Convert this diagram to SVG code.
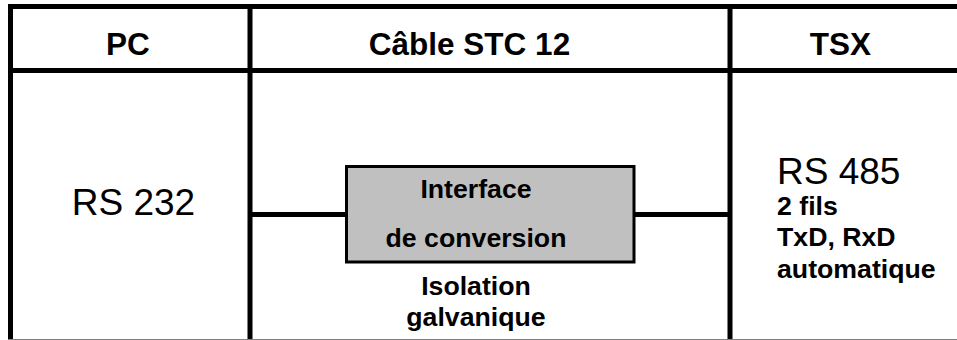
<svg xmlns="http://www.w3.org/2000/svg" width="957" height="340" viewBox="0 0 957 340">
<style>
text{font-family:"Liberation Sans",Arial,sans-serif;fill:#000;text-anchor:middle}
.h{font-size:31.500px;font-weight:bold}
.r{font-size:37px}
.b{font-size:26.700px;font-weight:bold}
.s{font-size:26.700px;font-weight:bold;text-anchor:start}
.l{stroke:#000;stroke-width:5;fill:none}
</style>
<rect width="957" height="340" fill="#fff"/>
<g id="grid">
<path class="l" d="M8 6.500H957M8 70.500H957M10.500 4V339M250 4V339M730 4V339"/>
<path d="M8 339.500H957" stroke="#808080" stroke-width="1" fill="none"/>
</g>
<g id="connectors">
<path class="l" d="M250 214.500H346M634 214.500H730"/>
</g>
<g id="pc"><text class="h" x="128" y="55">PC</text><text class="r" x="133.500" y="214.500">RS 232</text></g>
<g id="cable"><text class="h" x="469.500" y="55">Câble STC 12</text></g>
<g id="tsx"><text class="h" x="840.500" y="55">TSX</text>
<text class="r" x="777" y="183.500" style="text-anchor:start">RS 485</text>
<text class="s" x="777" y="214.500">2 fils</text>
<text class="s" x="777" y="246">TxD, RxD</text>
<text class="s" x="777" y="277.500">automatique</text></g>
<g id="interface">
<rect x="346.500" y="166.500" width="287.500" height="95.500" fill="#c0c0c0" stroke="#000" stroke-width="3"/>
<text class="b" x="476" y="198">Interface</text>
<text class="b" x="476" y="246.500">de conversion</text>
</g>
<g id="isolation"><text class="b" x="476" y="294.500">Isolation</text><text class="b" x="476" y="325.500">galvanique</text></g>
</svg>
